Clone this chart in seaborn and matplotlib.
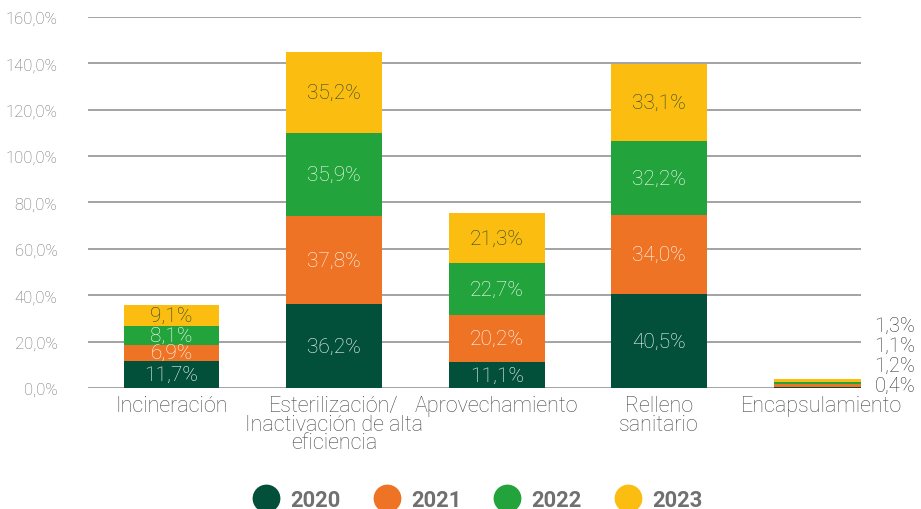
import matplotlib
matplotlib.use("Agg")
import matplotlib.pyplot as plt
import matplotlib.transforms as mtransforms
from matplotlib.lines import Line2D
import numpy as np
import pandas as pd
import seaborn as sns

# Data (percent)
categories = [
    "Incineración",
    "Esterilización/\nInactivación de alta\neficiencia",
    "Aprovechamiento",
    "Relleno\nsanitario",
    "Encapsulamiento",
]
years = ["2020", "2021", "2022", "2023"]
v2020 = [11.7, 36.2, 11.1, 40.5, 0.4]
v2021 = [6.9, 37.8, 20.2, 34.0, 1.2]
v2022 = [8.1, 35.9, 22.7, 32.2, 1.1]
v2023 = [9.1, 35.2, 21.3, 33.1, 1.3]
y_ticks = [0, 20, 40, 60, 80, 100, 120, 140, 160]

colors = {"2020": "#03503a", "2021": "#ee7324", "2022": "#22a33b", "2023": "#fbbd10"}
label_colors = {"2020": "white", "2021": "white", "2022": "white", "2023": "#27452a"}

sns.set_theme(style="white")
plt.rcParams["font.family"] = ["Roboto", "DejaVu Sans"]

df = pd.DataFrame({"categoria": categories, "2020": v2020, "2021": v2021,
                   "2022": v2022, "2023": v2023})
cum = df[years].cumsum(axis=1)

fig = plt.figure(figsize=(9.21, 5.10), dpi=100)
ax = fig.add_axes([0.0955, 0.2373, 0.8395, 0.7274])

# Stacked bars: draw cumulative totals from the top series down
for i, yr in enumerate(reversed(years)):
    sns.barplot(x=df["categoria"], y=cum[yr], color=colors[yr], width=0.59,
                saturation=1, ax=ax, zorder=3 + i, linewidth=0)

# Segment value labels
n = len(categories)
for yr in years:
    bottoms = cum[yr] - df[yr]
    for j in range(n - 1):
        val = df[yr][j]
        ax.text(j, bottoms[j] + val / 2, f"{val:.1f}%".replace(".", ","),
                ha="center", va="center", fontsize=15, fontweight="light",
                color=label_colors[yr], zorder=10)

# Small stack: labels listed to the right of the plot
trans = mtransforms.blended_transform_factory(ax.transAxes, ax.transData)
label_offsets = [3, 23, 43, 63]
for k, yr in enumerate(years):
    val = df[yr][n - 1]
    off = mtransforms.offset_copy(trans, fig=fig, x=0, y=label_offsets[k], units="dots")
    ax.text(1.017, 0, f"{val:.1f}%".replace(".", ","), transform=off,
            ha="left", va="center", fontsize=14.5, fontweight="light",
            color="#333333", zorder=10)

ax.set_xlim(-0.514, 4.242)
ax.set_ylim(0, 160)
ax.set_yticks(y_ticks)
ax.set_yticklabels([f"{t:.1f}%".replace(".", ",") for t in y_ticks],
                   fontsize=12, fontweight="light", color="#6e6e6e")
ax.yaxis.grid(True, color="#8a8a8a", linewidth=1.1, zorder=0)
ax.set_axisbelow(True)
ax.tick_params(axis="y", length=0, pad=22)
ax.tick_params(axis="x", length=0, pad=5)
for lab in ax.get_xticklabels():
    lab.set_fontsize(15.5)
    lab.set_fontweight("light")
    lab.set_color("#4a4a4a")
    lab.set_linespacing(0.85)
ax.set_xlabel("")
ax.set_ylabel("")
for s in ax.spines.values():
    s.set_visible(False)

handles = [Line2D([0], [0], marker="o", linestyle="none", markersize=19,
                  markerfacecolor=colors[yr], markeredgecolor=colors[yr]) for yr in years]
leg = fig.legend(handles, years, loc="center", bbox_to_anchor=(0.52, 0.018),
                 ncol=4, frameon=False, handlelength=1.0, handletextpad=0.6,
                 columnspacing=1.6, prop={"size": 15.8, "weight": "bold"})
for t in leg.get_texts():
    t.set_color("#707070")

fig.savefig("out.png", dpi=100)
